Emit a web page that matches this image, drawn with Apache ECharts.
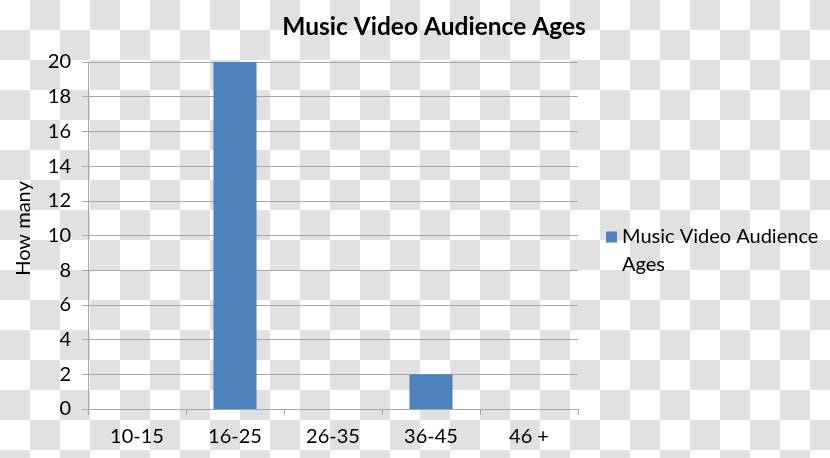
<!DOCTYPE html>
<html>
<head>
<meta charset="utf-8">
<script src="https://cdn.jsdelivr.net/npm/echarts@6/dist/echarts.min.js"></script>
<style>
html,body{margin:0;padding:0;}
body{
  width:830px;height:458px;
  background-color:#fff;
  background-image:conic-gradient(at 30px 30px,#e1e1e1 0deg 90deg,#fff 90deg 180deg,#e1e1e1 180deg 270deg,#fff 270deg 360deg);
  background-size:60px 60px;
}
#chart{width:830px;height:458px;}
</style>
</head>
<body>
<div id="chart"></div>
<script>
var titleText = "Music Video Audience Ages";
var categories = ["10-15", "16-25", "26-35", "36-45", "46 +"];
var seriesName = "Music Video Audience Ages";
var values = [0, 20, 0, 2, 0];
var yTicks = {min: 0, max: 20, interval: 2};
var yAxisName = "How many";

var FONT = "Lato, 'Open Sans', sans-serif";
var chart = echarts.init(document.getElementById('chart'), null, {renderer: 'canvas'});
chart.setOption({
  backgroundColor: 'transparent',
  animation: false,
  title: {
    text: titleText,
    left: 429, top: 10, textAlign: 'center',
    textStyle: {fontFamily: FONT, fontWeight: 'bold', fontSize: 24.5, color: '#000'}
  },
  legend: {
    data: [seriesName],
    orient: 'vertical',
    left: 601, top: 190,
    icon: 'rect', itemWidth: 11, itemHeight: 11, itemGap: 8,
    formatter: function (n) { return ' \n' + n.replace('Audience ', 'Audience\n'); },
    textStyle: {fontFamily: FONT, fontSize: 20, color: '#000', lineHeight: 28}
  },
  grid: {left: 88, right: 252, top: 62, bottom: 49, containLabel: false},
  xAxis: {
    type: 'category',
    data: categories,
    axisLine: {lineStyle: {color: '#a6a6a6', width: 1}},
    axisTick: {show: true, length: 6, lineStyle: {color: '#a6a6a6'}},
    axisLabel: {fontFamily: FONT, fontSize: 20, color: '#000', margin: 18},
    splitLine: {show: false}
  },
  yAxis: {
    type: 'value',
    min: yTicks.min, max: yTicks.max, interval: yTicks.interval,
    name: yAxisName,
    nameLocation: 'middle',
    nameGap: 54,
    nameRotate: 90,
    nameTextStyle: {fontFamily: FONT, fontSize: 20, color: '#000', padding: [0, 0, 0, 14]},
    axisLine: {show: true, lineStyle: {color: '#a6a6a6', width: 1}},
    axisTick: {show: true, length: 6, lineStyle: {color: '#a6a6a6'}},
    axisLabel: {fontFamily: FONT, fontSize: 20, color: '#000', margin: 17},
    splitLine: {show: true, lineStyle: {color: '#a6a6a6', width: 1}}
  },
  series: [{
    name: seriesName,
    type: 'bar',
    data: values,
    barWidth: '44%',
    itemStyle: {color: '#4f81bd'}
  }]
});
</script>
</body>
</html>
